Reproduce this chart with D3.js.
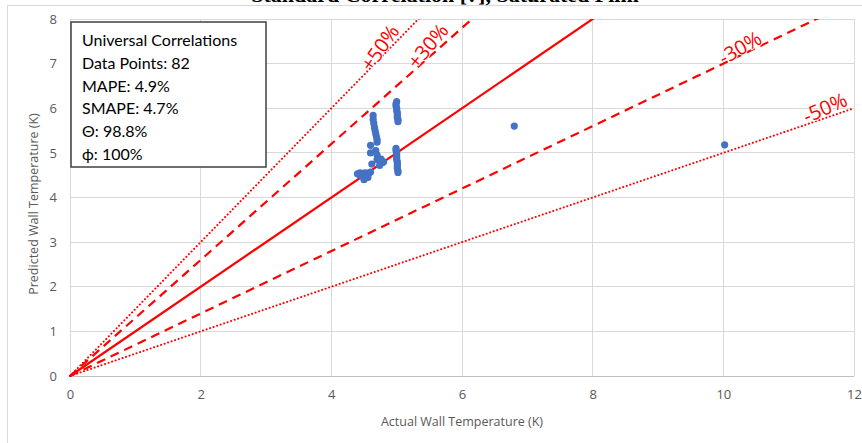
<!DOCTYPE html>
<html><head><meta charset="utf-8">
<script src="https://cdn.jsdelivr.net/npm/d3@7"></script>
<style>body{margin:0;background:#fff;}svg{display:block;}</style>
</head><body>
<svg id="c" width="862" height="443"></svg>
<script>
const chartTitle = "Standard Correlation [?], Saturated Film";
const xTicks = [0, 2, 4, 6, 8, 10, 12];
const yTicks = [0, 1, 2, 3, 4, 5, 6, 7, 8];
const xTitle = "Actual Wall Temperature (K)";
const yTitle = "Predicted Wall Temperature (K)";
const statsLines = ["Universal Correlations", "Data Points: 82", "MAPE: 4.9%", "SMAPE: 4.7%", "\u0398: 98.8%", "\u03d5: 100%"];
const refFactors = [1, 1.3, 0.7, 1.5, 0.5];
const refStyles = ["solid", "dash", "dash", "dot", "dot"];
const refLabels = ["", "+30%", "-30%", "+50%", "-50%"];
const actualT = [
  5.00,4.99,4.99,5.00,5.00,5.01,5.01,5.01,5.02,5.02,
  4.99,4.99,5.00,5.00,5.00,5.00,5.01,5.01,5.01,5.01,5.02,5.02,
  4.64,4.64,4.65,4.66,4.67,4.68,4.69,4.70,4.70,
  4.60,4.60,4.68,4.70,4.72,4.75,4.78,4.62,4.74,4.80,4.70,4.76,
  4.42,4.45,4.48,4.50,4.52,4.55,4.58,4.60,4.47,4.53,4.50,4.56,4.44,4.40,
  6.80,10.02
];
const predictedT = [
  6.15,6.10,6.05,6.00,5.95,5.90,5.85,5.80,5.75,5.70,
  5.10,5.05,5.00,4.95,4.90,4.85,4.80,4.75,4.70,4.65,4.60,4.56,
  5.84,5.75,5.66,5.57,5.50,5.43,5.36,5.30,5.24,
  5.17,5.00,5.05,4.95,4.88,4.82,4.78,4.75,4.72,4.80,4.85,4.86,
  4.52,4.53,4.54,4.52,4.55,4.53,4.55,4.57,4.48,4.47,4.40,4.45,4.55,4.53,
  5.60,5.18
];

const svg = d3.select("#c");
const x = d3.scaleLinear().domain([0, 12]).range([70, 854]);
const y = d3.scaleLinear().domain([0, 8]).range([376, 19]);

// outer frame
svg.append("rect").attr("x", 7.5).attr("y", 5.5).attr("width", 870).attr("height", 450)
  .attr("fill", "#fff").attr("stroke", "#d9d9d9").attr("stroke-width", 1);

// title (cut off at the top, as in the reference)
svg.append("text").attr("x", 445).attr("y", 2).attr("text-anchor", "middle")
  .attr("font-family", "Liberation Serif, serif").attr("font-weight", "bold").attr("font-size", 22)
  .attr("fill", "#000").text(chartTitle);

// gridlines
const g = svg.append("g");
g.selectAll("line.h").data(yTicks).enter().append("line")
  .attr("x1", x(0)).attr("x2", x(12)).attr("y1", d => y(d)).attr("y2", d => y(d))
  .attr("stroke", d => d === 0 ? "#bfbfbf" : "#d9d9d9").attr("stroke-width", 1)
  .attr("shape-rendering", "crispEdges");
g.selectAll("line.v").data(xTicks).enter().append("line")
  .attr("x1", d => x(d)).attr("x2", d => x(d)).attr("y1", y(0)).attr("y2", y(8))
  .attr("stroke", "#d9d9d9").attr("stroke-width", 1).attr("shape-rendering", "crispEdges");

// axes
const xAxis = d3.axisBottom(x).tickValues(xTicks).tickSize(0).tickPadding(14);
const yAxis = d3.axisLeft(y).tickValues(yTicks).tickSize(0).tickPadding(13);
const gx = svg.append("g").attr("transform", `translate(0,${y(0)})`).call(xAxis);
const gy = svg.append("g").attr("transform", `translate(${x(0)},0)`).call(yAxis);
[gx, gy].forEach(a => {
  a.select(".domain").remove();
  a.selectAll("text").attr("font-family", "Open Sans, sans-serif").attr("font-size", 13).attr("fill", "#595959");
});

svg.append("text").attr("x", 462).attr("y", 426).attr("text-anchor", "middle")
  .attr("font-family", "Open Sans, sans-serif").attr("font-size", 12.5).attr("fill", "#595959").text(xTitle);
svg.append("text").attr("transform", `translate(38,204) rotate(-90)`).attr("text-anchor", "middle")
  .attr("font-family", "Open Sans, sans-serif").attr("font-size", 12.5).attr("fill", "#595959").text(yTitle);

// clip
svg.append("clipPath").attr("id", "clip").append("rect")
  .attr("x", x(0) - 2).attr("y", y(8)).attr("width", x(12) - x(0) + 4).attr("height", y(0) - y(8) + 2);

const lines = svg.append("g").attr("clip-path", "url(#clip)");
refFactors.forEach((f, i) => {
  const st = refStyles[i];
  const l = lines.append("line")
    .attr("x1", x(0)).attr("y1", y(0)).attr("x2", x(12)).attr("y2", y(12 * f))
    .attr("stroke", "#ff0000").attr("fill", "none");
  if (st === "solid") l.attr("stroke-width", 2.2);
  else if (st === "dash") l.attr("stroke-width", 2.2).attr("stroke-dasharray", "9,6");
  else l.attr("stroke-width", 2).attr("stroke-dasharray", "0.1,3.6").attr("stroke-linecap", "round");
});

// labels on lines
const labelPos = {"+50%": [380, 48, -55], "+30%": [428, 46, -50], "-30%": [740, 48, -30], "-50%": [825, 108, -24]};
refLabels.forEach(lbl => {
  if (!lbl) return;
  const p = labelPos[lbl];
  svg.append("text").attr("transform", `translate(${p[0]},${p[1]}) rotate(${p[2]})`)
    .attr("text-anchor", "middle").attr("dy", "0.35em")
    .attr("font-family", "Open Sans, sans-serif").attr("font-size", 20).attr("fill", "#ff0000")
    .attr("stroke", "#fff").attr("stroke-width", 2).attr("paint-order", "stroke").text(lbl);
});

// points
svg.append("g").selectAll("circle").data(actualT.map((a, i) => [a, predictedT[i]])).enter()
  .append("circle").attr("cx", d => x(d[0])).attr("cy", d => y(d[1])).attr("r", 3.6)
  .attr("fill", "#4472c4");

// stats box
const box = svg.append("g");
box.append("rect").attr("x", 71).attr("y", 22).attr("width", 195).attr("height", 145)
  .attr("fill", "#fff").attr("stroke", "#404040").attr("stroke-width", 1.5);
box.selectAll("text").data(statsLines).enter().append("text")
  .attr("x", 82).attr("y", (d, i) => 46 + i * 22.8)
  .attr("font-family", "Lato, sans-serif").attr("font-size", 16).attr("fill", "#000").text(d => d);
</script>
</body></html>
